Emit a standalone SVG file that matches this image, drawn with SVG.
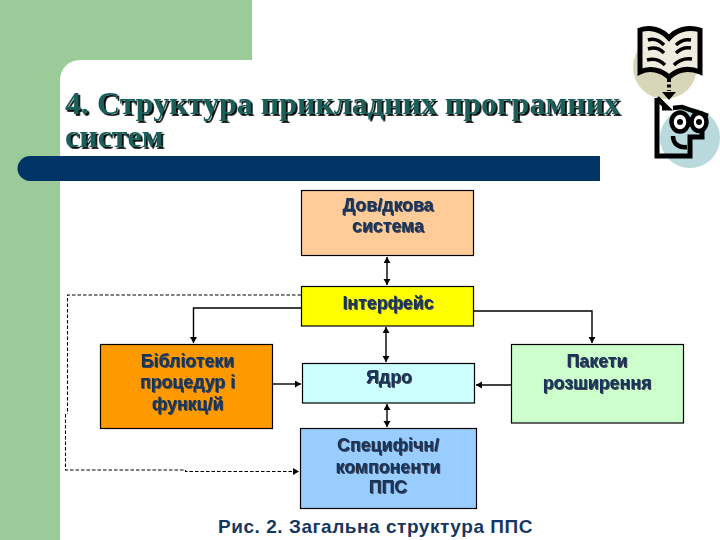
<svg xmlns="http://www.w3.org/2000/svg" width="720" height="540" viewBox="0 0 720 540">
<defs>
<filter id="ts" x="-5%" y="-10%" width="110%" height="125%"><feDropShadow dx="1.8" dy="1.8" stdDeviation="0" flood-color="#000"/></filter>
<filter id="ns" x="-5%" y="-10%" width="110%" height="125%"><feDropShadow dx="1" dy="1" stdDeviation="0.2" flood-color="#445"/></filter>
<marker id="a" markerWidth="8" markerHeight="8" refX="6" refY="3.500" orient="auto-start-reverse" markerUnits="userSpaceOnUse"><path d="M0 0L6 3.500L0 7Z" fill="#000"/></marker>
</defs>
<style>
.box{stroke:#000;stroke-width:1.2}
.c{fill:none;stroke:#000;stroke-width:1.4}
.d{fill:none;stroke:#000;stroke-width:1.1;stroke-dasharray:3.500 2}
.t{font:bold 17.800px "Liberation Sans",Arial,sans-serif;fill:#14345a;text-anchor:middle;filter:url(#ns)}
.h{font:bold 32px "Liberation Serif","Times New Roman",serif;fill:#1a5f5a;filter:url(#ts)}
</style>
<rect width="720" height="540" fill="#fff"/>
<path d="M0 0H252V60H80A20 20 0 0 0 60 80V540H0Z" fill="#9ccb9a"/>
<path d="M30 156H600V181H30A12.500 12.500 0 0 1 30 156Z" fill="#003366"/>
<g id="title"><text class="h" x="65" y="114">4. Структура прикладних програмних</text><text class="h" x="65" y="147">систем</text></g>
<g id="clipart">
<circle cx="665" cy="67" r="32" fill="#d8d6b8"/>
<circle cx="690" cy="138" r="30" fill="#b9d9dc"/>
<path d="M640 30C650 26 662 30 669 38C676 30 688 26 700 30V72C688 67 677 70 669 77C661 70 650 67 640 72Z" fill="#eeeddf" stroke="#000" stroke-width="5"/>
<path d="M648 40C654 38 660 41 664 45M648 49C654 47 660 49 664 53M647 60C654 58 660 60 665 65M676 45C680 41 685 39 691 40M676 53C680 49 685 47 691 48M674 65C679 60 685 58 692 59" fill="none" stroke="#000" stroke-width="3.500"/>
<path d="M669 79V91" stroke="#000" stroke-width="4" stroke-dasharray="3 2.500" fill="none"/>
<path d="M662 92H676L669 100Z" fill="#000"/>
<path d="M657 98L667 108L662 108M657 98V156H690V137H702V131" fill="none" stroke="#000" stroke-width="5"/>
<path d="M673 108L682 107L708 116" fill="none" stroke="#000" stroke-width="4.500"/>
<ellipse cx="680" cy="122" rx="8.500" ry="9.500" fill="#fff" stroke="#000" stroke-width="4.500"/>
<ellipse cx="699" cy="122" rx="7.500" ry="9" fill="#fff" stroke="#000" stroke-width="4.500"/>
<circle cx="680" cy="122" r="3" fill="#000"/><circle cx="699" cy="122" r="3" fill="#000"/>
<path d="M673 136C673 144 679 148 687 147" fill="none" stroke="#000" stroke-width="4.500"/>
</g>
<g id="connectors">
<path class="c" d="M387 257V285" marker-start="url(#a)" marker-end="url(#a)"/>
<path class="c" d="M386 327V362" marker-start="url(#a)" marker-end="url(#a)"/>
<path class="c" d="M387 404V427" marker-start="url(#a)" marker-end="url(#a)"/>
<path class="c" d="M301 308H193.500V343" marker-end="url(#a)"/>
<path class="c" d="M473 311H592V343" marker-end="url(#a)"/>
<path class="c" d="M273 384H301" marker-end="url(#a)"/>
<path class="c" d="M511 385H476" marker-end="url(#a)"/>
<path class="d" d="M301 295H67.500V414"/>
<path class="d" d="M65.500 414V470H185.500V471.500H299" marker-end="url(#a)"/>
</g>
<g id="dovidkova"><rect class="box" x="301.500" y="190.500" width="172" height="65" fill="#ffcc99"/><text class="t" x="388" y="211">Дов/дкова</text><text class="t" x="388" y="232">система</text></g>
<g id="interface"><rect class="box" x="301.500" y="286.500" width="172" height="39.500" fill="#ffff00"/><text class="t" x="388" y="309">Інтерфейс</text></g>
<g id="biblioteky"><rect class="box" x="100.500" y="344.500" width="172" height="84" fill="#ff9900"/><text class="t" x="187.500" y="367">Бібліотеки</text><text class="t" x="187.500" y="388">процедур і</text><text class="t" x="187.500" y="410">функц/й</text></g>
<g id="yadro"><rect class="box" x="302.500" y="363.500" width="172" height="39.500" fill="#ccffff"/><text class="t" x="389" y="383">Ядро</text></g>
<g id="pakety"><rect class="box" x="511.500" y="344.500" width="172" height="78.500" fill="#ccffcc"/><text class="t" x="597" y="367">Пакети</text><text class="t" x="597" y="389">розширення</text></g>
<g id="specific"><rect class="box" x="300.500" y="428.500" width="176" height="80" fill="#99ccff"/><text class="t" x="388" y="451">Специфічн/</text><text class="t" x="388" y="473">компоненти</text><text class="t" x="388" y="493">ППС</text></g>
<text id="caption" x="218" y="533" font-family="Liberation Sans, Arial, sans-serif" font-weight="bold" font-size="19" letter-spacing="0.550" fill="#17375e">Рис. 2. Загальна структура ППС</text>
</svg>
